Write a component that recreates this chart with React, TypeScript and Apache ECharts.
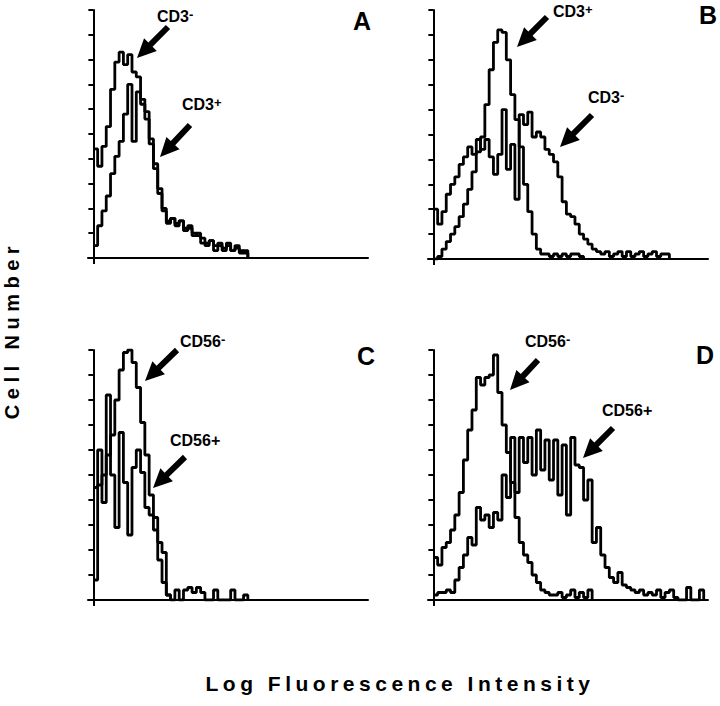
import React, { useEffect, useRef } from "react";
import * as echarts from "echarts";

// channels per histogram bin
const BIN = 4;
const X_MIN = -5;
const X_MAX = 256;
const Y_MAX = 10;

// Panel A
const aCD3neg = [4.4, 3.7, 4.5, 5.3, 6.8, 7.9, 8.3, 7.8, 8.2, 7.5, 7.3, 6.4, 5.9, 4.8, 3.8, 2.8, 1.9, 1.5, 1.6, 1.4, 1.5, 1.2, 1.3, 1.0, 0.9, 0.8, 0.6, 0.7, 0.5, 0.6, 0.4, 0.5, 0.3, 0.5, 0.3, 0.2];
const aCD3pos = [0.5, 1.3, 1.9, 2.5, 3.4, 4.1, 4.7, 5.8, 7.0, 4.7, 6.7, 6.2, 5.6, 4.6, 3.6, 2.6, 2.0, 1.4, 1.6, 1.3, 1.5, 1.1, 1.2, 0.9, 1.0, 0.6, 0.5, 0.7, 0.3, 0.5, 0.3, 0.6, 0.3, 0.4, 0.2, 0.3];
// Panel B
const bCD3pos = [0, 0.1, 0.4, 0.7, 1.0, 1.3, 1.7, 2.2, 2.8, 3.5, 4.3, 4.9, 6.2, 7.6, 8.7, 9.2, 9.1, 8.0, 6.6, 5.6, 4.5, 3.0, 1.9, 1.0, 0.4, 0.2, 0.2, 0.1, 0.2, 0.1, 0.2, 0.1, 0.2, 0.2, 0.1];
const bCD3neg = [2.0, 1.4, 1.9, 2.6, 3.0, 3.3, 3.8, 4.1, 4.5, 4.2, 4.8, 4.4, 4.8, 4.1, 3.4, 4.2, 6.0, 3.6, 4.6, 2.4, 5.8, 5.4, 5.9, 4.9, 5.1, 4.9, 4.4, 4.2, 3.9, 3.3, 2.3, 1.8, 1.7, 1.4, 1.0, 0.8, 0.6, 0.4, 0.3, 0.2, 0.3, 0.1, 0.2, 0.3, 0.1, 0.3, 0.1, 0.2, 0.3, 0.1, 0.2, 0.3, 0.1, 0.2, 0.2];
// Panel C
const cCD56neg = [4.5, 4.6, 5.0, 5.8, 6.6, 8.0, 9.2, 9.9, 10.0, 9.5, 8.5, 7.1, 5.8, 4.2, 2.8, 1.6, 0.7, 0.2];
const cCD56pos = [0.8, 6.0, 3.9, 8.2, 5.0, 2.9, 6.7, 4.7, 2.6, 5.3, 6.0, 5.1, 3.7, 3.4, 3.3, 2.3, 1.9, 0.2, 0, 0.4, 0, 0.4, 0.5, 0.3, 0.5, 0.3, 0, 0, 0.4, 0, 0, 0, 0.4, 0, 0, 0.2];
// Panel D
const dCD56neg = [1.7, 1.4, 2.1, 2.3, 2.8, 3.4, 4.3, 5.6, 6.8, 7.6, 8.9, 8.6, 8.9, 9.0, 9.8, 8.3, 7.0, 5.9, 4.7, 3.3, 2.3, 1.8, 1.5, 1.0, 0.7, 0.4, 0.3, 0.2, 0.2, 0.3, 0.1, 0.2, 0.4, 0.1, 0.3, 0.1, 0.4];
const dCD56pos = [0.2, 0.3, 0.3, 0.4, 0.3, 0.8, 1.3, 1.8, 2.5, 2.2, 3.7, 3.2, 3.4, 2.9, 3.5, 3.2, 5.0, 4.1, 6.5, 4.3, 6.5, 5.5, 6.5, 5.0, 6.8, 5.2, 6.4, 4.8, 6.4, 4.2, 6.2, 3.4, 6.5, 5.4, 5.3, 4.0, 4.8, 2.3, 2.9, 1.8, 1.3, 0.9, 0.7, 1.1, 0.6, 0.5, 0.4, 0.3, 0.4, 0.2, 0.3, 0.2, 0.4, 0.1, 0.3, 0.4, 0.1, 0, 0, 0.5, 0, 0, 0.4];

const panelLetters = ["A", "B", "C", "D"];
const panelSeries = [
  [aCD3neg, aCD3pos],
  [bCD3pos, bCD3neg],
  [cCD56neg, cCD56pos],
  [dCD56neg, dCD56pos],
];

const FONT = "'Liberation Sans', Arial, Helvetica, sans-serif";

function toSteps(values: number[]) {
  const pts = values.map((v, i) => [i * BIN, v]);
  pts.push([values.length * BIN, 0]);
  return pts;
}

function arrow(tail: number[], tip: number[]) {
  const dx = tip[0] - tail[0];
  const dy = tip[1] - tail[1];
  const len = Math.sqrt(dx * dx + dy * dy);
  const ux = dx / len, uy = dy / len;
  const nx = -uy, ny = ux;
  const headLen = 19, headW = 18, shaftW = 6;
  const bx = tip[0] - ux * headLen, by = tip[1] - uy * headLen;
  const pts = [
    [tail[0] + nx * shaftW / 2, tail[1] + ny * shaftW / 2],
    [bx + nx * shaftW / 2, by + ny * shaftW / 2],
    [bx + nx * headW / 2, by + ny * headW / 2],
    [tip[0], tip[1]],
    [bx - nx * headW / 2, by - ny * headW / 2],
    [bx - nx * shaftW / 2, by - ny * shaftW / 2],
    [tail[0] - nx * shaftW / 2, tail[1] - ny * shaftW / 2],
  ];
  return { type: "polygon", shape: { points: pts }, style: { fill: "#000" }, silent: true };
}

function label(x: number, y: number, main: string, sup: string | null, plain?: string) {
  const text = sup !== null ? `{b|${main}}{s|${sup}}` : `{b|${plain}}`;
  return {
    type: "text",
    x,
    y,
    style: {
      text,
      fill: "#000",
      align: "left",
      textAlign: "left",
      verticalAlign: "middle",
      textVerticalAlign: "middle",
      rich: {
        b: { fontSize: 16, fontWeight: "bold", fontFamily: FONT, fill: "#000", color: "#000" },
        s: { fontSize: 13, fontWeight: "bold", fontFamily: FONT, fill: "#000", color: "#000", verticalAlign: "top" },
      },
    },
  };
}

export default function App() {
  const ref = useRef<HTMLDivElement>(null);
  useEffect(() => {
    if (!ref.current) return;
    const chart = echarts.init(ref.current, null, { renderer: "svg" });
    const grids = [
      { left: 88, top: 10, width: 280, height: 248 },
      { left: 428, top: 10, width: 280, height: 249 },
      { left: 88, top: 350, width: 280, height: 250 },
      { left: 428, top: 350, width: 280, height: 250 },
    ];
    const xAxes = grids.map((_, i) => ({
      type: "value",
      gridIndex: i,
      min: X_MIN,
      max: X_MAX,
      axisLine: { show: true, lineStyle: { color: "#000", width: 2 } },
      axisTick: { show: true, customValues: [0], length: 6, lineStyle: { color: "#000", width: 2 } },
      axisLabel: { show: false },
      splitLine: { show: false },
    }));
    const yAxes = grids.map((_, i) => ({
      type: "value",
      gridIndex: i,
      min: 0,
      max: Y_MAX,
      interval: 1,
      axisLine: { show: true, onZero: true, lineStyle: { color: "#000", width: 2 } },
      axisTick: { show: true, length: 5, lineStyle: { color: "#000", width: 2 } },
      axisLabel: { show: false },
      splitLine: { show: false },
    }));
    const series: any[] = [];
    panelSeries.forEach((pair, i) => {
      pair.forEach((vals) => {
        series.push({
          type: "line",
          xAxisIndex: i,
          yAxisIndex: i,
          step: "end",
          symbol: "none",
          showSymbol: false,
          lineStyle: { color: "#000", width: 2.8 },
          data: toSteps(vals),
        });
      });
    });
    const letterPos = [[362, 21], [708, 15], [366, 356], [705, 355]];
    const graphic: any[] = [
      label(157, 16, "CD3", "-"),
      label(182, 104, "CD3", "+"),
      label(553, 11, "CD3", "+"),
      label(588, 97, "CD3", "-"),
      label(180, 341, "CD56", "-"),
      label(170, 440, "", null, "CD56+"),
      label(525, 341, "CD56", "-"),
      label(602, 410, "", null, "CD56+"),
      arrow([168, 27], [137, 58]),
      arrow([190, 125], [160, 157]),
      arrow([547, 17], [517, 47]),
      arrow([592, 115], [560, 147]),
      arrow([177, 350], [145, 381]),
      arrow([185, 457], [153, 488]),
      arrow([538, 360], [510, 390]),
      arrow([613, 428], [583, 458]),
      ...panelLetters.map((t, i) => ({
        type: "text",
        x: letterPos[i][0],
        y: letterPos[i][1],
        style: {
          text: t,
          fill: "#000",
          font: `bold 25px ${FONT}`,
          align: "center",
          textAlign: "center",
          verticalAlign: "middle",
          textVerticalAlign: "middle",
        },
      })),
      {
        type: "text",
        x: 400,
        y: 683,
        style: {
          text: "Log Fluorescence Intensity",
          fill: "#000",
          font: `bold 21px ${FONT}`,
          align: "center",
          textAlign: "center",
          verticalAlign: "middle",
          textVerticalAlign: "middle",
        },
      },
      {
        type: "text",
        x: 12,
        y: 330,
        rotation: Math.PI / 2,
        style: {
          text: "Cell Number",
          fill: "#000",
          font: `bold 20px ${FONT}`,
          align: "center",
          textAlign: "center",
          verticalAlign: "middle",
          textVerticalAlign: "middle",
        },
      },
    ];
    chart.setOption({
      animation: false,
      backgroundColor: "#fff",
      grid: grids,
      xAxis: xAxes,
      yAxis: yAxes,
      series,
      graphic,
    });
    return () => chart.dispose();
  }, []);
  return (
    <>
      <style>{`#root text[style*="21px"]{letter-spacing:4.5px}#root text[style*="20px"]{letter-spacing:5.5px}`}</style>
      <div ref={ref} style={{ position: "fixed", left: 0, top: 0, width: 720, height: 706, background: "#fff" }} />
    </>
  );
}
